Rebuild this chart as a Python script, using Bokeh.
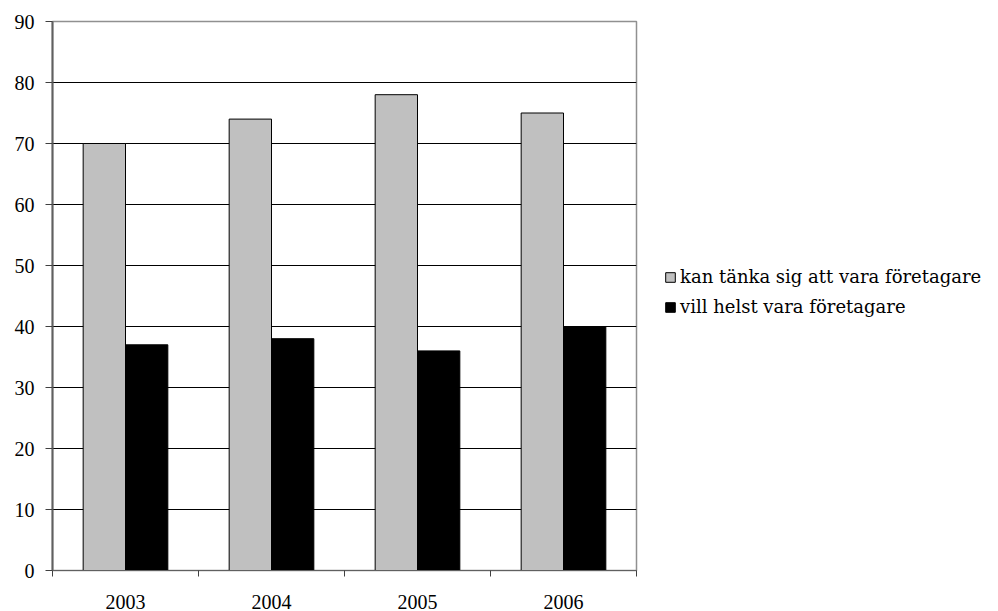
from bokeh.plotting import figure
from bokeh.models import ColumnDataSource, Range1d, FixedTicker, Legend, LegendItem
from bokeh.transform import dodge
from bokeh.embed import file_html
from bokeh.resources import INLINE

# Survey results per year (percent)
years = ["2003", "2004", "2005", "2006"]
could_imagine = [70, 74, 78, 75]    # kan tänka sig att vara företagare
would_prefer = [37, 38, 36, 40]     # vill helst vara företagare
y_ticks = [0, 10, 20, 30, 40, 50, 60, 70, 80, 90]

FONT = "Liberation Serif"
LEGEND_FONT = "DejaVu Serif"
BAR_W = 0.29

centers = [i + 0.5 for i in range(len(years))]
src = ColumnDataSource(dict(x=centers, a=could_imagine, b=would_prefer))

p = figure(frame_width=584, frame_height=549, output_backend="svg", toolbar_location=None,
           x_range=Range1d(0, len(years)), y_range=Range1d(0, 90),
           min_border_left=52, min_border_right=362, min_border_top=21,
           min_border_bottom=41)

rg = p.vbar(x=dodge("x", -BAR_W / 2, range=p.x_range), top="a", width=BAR_W,
            source=src, fill_color="#c0c0c0", line_color="black", line_width=1)
rb = p.vbar(x=dodge("x", BAR_W / 2, range=p.x_range), top="b", width=BAR_W,
            source=src, fill_color="black", line_color="black", line_width=1)

# y axis
p.yaxis.ticker = FixedTicker(ticks=y_ticks)
p.yaxis.major_tick_out = 7
p.yaxis.major_tick_in = 0
p.yaxis.minor_tick_line_color = None
p.yaxis.axis_line_color = "#606060"
p.yaxis.axis_line_width = 2
p.yaxis.major_tick_line_color = "#404040"
p.yaxis.major_label_text_font = FONT
p.yaxis.major_label_text_font_size = "20px"
p.yaxis.major_label_text_color = "black"
p.yaxis.major_label_standoff = 11

# x axis: labels centred on each year, tick marks between years
p.xaxis.ticker = FixedTicker(ticks=centers, minor_ticks=list(range(len(years) + 1)))
p.xaxis.major_label_overrides = {c: y for c, y in zip(centers, years)}
p.xaxis.major_tick_line_color = None
p.xaxis.minor_tick_out = 6
p.xaxis.minor_tick_in = 0
p.xaxis.minor_tick_line_color = "#404040"
p.xaxis.axis_line_color = "#606060"
p.xaxis.major_label_text_font = FONT
p.xaxis.major_label_text_font_size = "20px"
p.xaxis.major_label_text_color = "black"
p.xaxis.major_label_standoff = 18

p.xgrid.grid_line_color = None
p.ygrid.ticker = FixedTicker(ticks=y_ticks)
p.ygrid.grid_line_color = "black"
p.ygrid.grid_line_width = 1

p.outline_line_color = "#909090"
p.outline_line_width = 1.5

legend = Legend(items=[LegendItem(label="kan tänka sig att vara företagare", renderers=[rg]),
                       LegendItem(label="vill helst vara företagare", renderers=[rb])],
                location=(28, 253),
                glyph_width=12, glyph_height=12, label_standoff=4, label_height=21,
                spacing=9, border_line_color=None, background_fill_alpha=0,
                padding=0, margin=0)
legend.label_text_font = LEGEND_FONT
legend.label_text_font_size = "18px"
legend.label_text_color = "black"
p.add_layout(legend, "right")

open("out.html", "w").write(file_html(p, INLINE))
